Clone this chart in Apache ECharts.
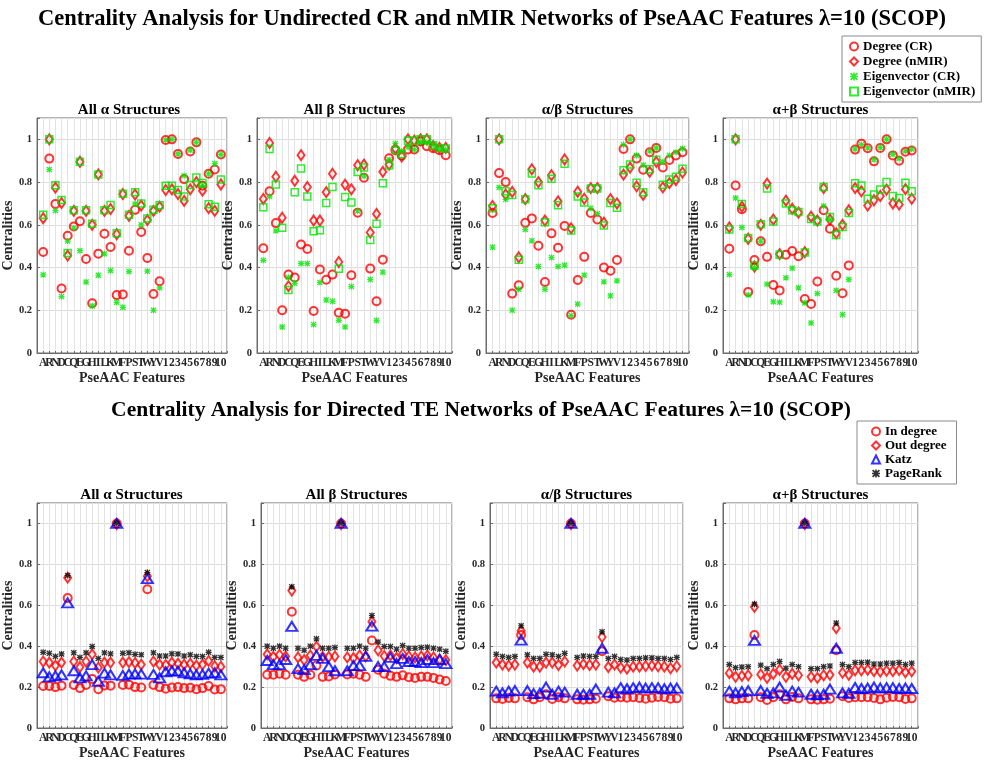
<!DOCTYPE html>
<html><head><meta charset="utf-8">
<script src="https://cdn.jsdelivr.net/npm/echarts@6/dist/echarts.min.js"></script>
<style>html,body{margin:0;padding:0;background:#fff}#c{width:987px;height:761px}</style>
</head><body><div id="c"></div>
<script>
// ---------- DATA ----------
const cats = ['A','R','N','D','C','Q','E','G','H','I','L','K','M','F','P','S','T','W','Y','V','1','2','3','4','5','6','7','8','9','10'];
const yTicks = [0, 0.2, 0.4, 0.6, 0.8, 1];
const subTitles = ['All α Structures', 'All β Structures', 'α/β Structures', 'α+β Structures'];
const topNames = ['Degree (CR)', 'Degree (nMIR)', 'Eigenvector (CR)', 'Eigenvector (nMIR)'];
const botNames = ['In degree', 'Out degree', 'Katz', 'PageRank'];

// Top row: undirected CR / nMIR networks
const alphaDegCR  = [.473,.91,.698,.302,.549,.592,.617,.44,.233,.465,.558,.496,.271,.274,.479,.67,.566,.445,.276,.336,.997,1.0,.932,.814,.943,.986,.783,.839,.859,.929];
const alphaDegN   = [.631,1.0,.774,.702,.456,.665,.895,.665,.60,.836,.665,.674,.556,.744,.642,.742,.69,.622,.665,.685,.763,.766,.744,.712,.766,.80,.76,.678,.665,.789];
const alphaEigCR  = [.366,.859,.667,.264,.524,.585,.479,.332,.22,.364,.464,.386,.237,.214,.381,.698,.60,.383,.20,.305,.997,1.0,.932,.83,.95,.986,.785,.839,.887,.929];
const alphaEigN   = [.647,1.0,.785,.716,.468,.668,.895,.668,.605,.836,.668,.693,.561,.746,.647,.752,.70,.63,.67,.692,.783,.783,.763,.732,.786,.822,.796,.696,.685,.812];

const betaDegCR   = [.49,.757,.608,.20,.367,.353,.508,.487,.197,.391,.343,.367,.188,.184,.364,.657,.82,.395,.242,.437,.912,.949,.925,.953,.953,.99,.968,.958,.949,.926];
const betaDegN    = [.721,.983,.825,.633,.313,.806,.926,.777,.62,.62,.753,.839,.426,.788,.766,.879,.882,.564,.651,.848,.882,.957,.92,1.0,.994,1.0,1.0,.969,.96,.96];
const betaEigCR   = [.434,.732,.572,.122,.353,.326,.419,.419,.133,.33,.248,.242,.153,.122,.311,.665,.828,.344,.152,.378,.905,.981,.945,.964,.952,.988,.985,.972,.957,.953];
const betaEigN    = [.682,.955,.789,.586,.295,.753,.864,.733,.57,.575,.702,.777,.394,.73,.705,.847,.868,.529,.605,.794,.878,.949,.93,.994,.994,1.0,1.0,.972,.96,.957];

const abDegCR     = [.655,.842,.80,.278,.317,.61,.63,.502,.332,.56,.493,.595,.179,.342,.45,.655,.625,.40,.385,.435,.955,1.0,.91,.858,.94,.96,.868,.903,.925,.94];
const abDegN      = [.688,1.0,.742,.754,.448,.72,.86,.80,.62,.832,.71,.906,.584,.755,.722,.772,.772,.61,.72,.70,.835,.868,.78,.74,.848,.895,.775,.795,.81,.845];
const abEigCR     = [.495,.775,.719,.20,.298,.578,.525,.405,.298,.447,.405,.411,.175,.229,.364,.677,.652,.333,.268,.338,.975,1.0,.925,.88,.945,.96,.895,.925,.94,.957];
const abEigN      = [.677,1.0,.757,.739,.437,.72,.84,.785,.612,.816,.692,.886,.573,.733,.705,.77,.77,.597,.702,.68,.855,.882,.797,.752,.86,.905,.787,.812,.825,.862];

const apbDegCR    = [.488,.784,.673,.286,.435,.523,.45,.318,.293,.46,.477,.453,.253,.229,.335,.668,.582,.362,.28,.41,.952,.98,.958,.897,.96,1.0,.925,.90,.942,.948];
const apbDegN     = [.588,1.0,.685,.535,.405,.60,.793,.625,.463,.713,.675,.657,.472,.638,.62,.772,.625,.56,.60,.668,.772,.757,.69,.715,.735,.765,.70,.695,.767,.722];
const apbEigCR    = [.367,.726,.588,.272,.40,.523,.322,.24,.238,.352,.397,.305,.235,.141,.278,.688,.625,.293,.18,.344,.955,.975,.96,.905,.962,1.0,.93,.91,.945,.955];
const apbEigN     = [.578,1.0,.697,.538,.41,.603,.77,.615,.46,.70,.668,.66,.47,.627,.615,.777,.637,.552,.59,.655,.795,.784,.722,.742,.765,.80,.735,.725,.797,.757];

// Bottom row: directed TE networks
const aIn   = [.205,.205,.20,.207,.635,.21,.195,.21,.24,.19,.208,.207,1.0,.21,.212,.20,.198,.678,.21,.20,.192,.198,.20,.195,.197,.19,.195,.205,.188,.19];
const aOut  = [.325,.32,.305,.32,.735,.325,.298,.325,.36,.295,.32,.32,.997,.32,.322,.318,.31,.742,.325,.31,.308,.32,.315,.31,.315,.305,.31,.328,.302,.30];
const aKatz = [.27,.25,.255,.26,.612,.28,.245,.255,.31,.228,.268,.26,1.0,.257,.263,.265,.263,.73,.262,.245,.275,.28,.278,.27,.265,.26,.262,.268,.27,.26];
const aPR   = [.37,.365,.35,.362,.745,.368,.345,.368,.398,.34,.368,.363,1.0,.365,.368,.36,.358,.76,.368,.352,.352,.363,.362,.352,.358,.35,.35,.37,.345,.345];

const bIn   = [.26,.26,.265,.26,.568,.26,.25,.26,.305,.25,.252,.262,1.0,.262,.265,.26,.25,.428,.285,.265,.255,.25,.258,.248,.245,.25,.25,.245,.237,.23];
const bOut  = [.36,.348,.358,.35,.672,.345,.332,.355,.398,.348,.348,.35,.997,.345,.342,.355,.35,.52,.38,.352,.355,.342,.362,.35,.345,.35,.355,.345,.335,.332];
const bKatz = [.33,.31,.31,.335,.497,.29,.285,.31,.355,.34,.30,.28,1.0,.28,.305,.305,.35,.498,.30,.30,.345,.315,.34,.325,.325,.32,.335,.32,.335,.315];
const bPR   = [.40,.39,.40,.39,.69,.39,.38,.40,.436,.39,.39,.393,1.0,.39,.39,.40,.39,.55,.42,.398,.398,.385,.403,.39,.39,.393,.395,.39,.385,.375];

const abIn   = [.145,.142,.147,.145,.455,.15,.14,.15,.165,.142,.15,.145,1.0,.14,.138,.14,.143,.375,.155,.148,.15,.148,.15,.147,.143,.148,.152,.15,.143,.145];
const abOut  = [.32,.31,.305,.31,.475,.32,.30,.30,.32,.32,.308,.325,.997,.305,.312,.308,.31,.445,.298,.31,.295,.29,.30,.30,.303,.305,.302,.30,.292,.302];
const abKatz = [.18,.172,.18,.183,.43,.183,.168,.17,.20,.165,.18,.175,1.0,.165,.165,.165,.19,.39,.175,.172,.197,.192,.197,.20,.195,.197,.197,.192,.195,.195];
const abPR   = [.36,.35,.345,.35,.50,.358,.34,.34,.36,.358,.35,.365,1.0,.345,.352,.35,.35,.47,.34,.35,.335,.332,.34,.34,.343,.343,.34,.34,.335,.345];

const apbIn   = [.145,.14,.145,.145,.455,.15,.137,.15,.165,.14,.152,.145,1.0,.14,.138,.14,.143,.38,.155,.147,.15,.15,.15,.147,.14,.148,.152,.15,.142,.145];
const apbOut  = [.268,.25,.255,.258,.592,.262,.245,.265,.285,.25,.265,.258,.997,.25,.245,.258,.26,.488,.27,.26,.282,.282,.285,.278,.276,.28,.278,.283,.272,.277];
const apbKatz = [.18,.172,.178,.182,.428,.183,.17,.172,.20,.16,.18,.175,1.0,.165,.162,.165,.19,.39,.172,.17,.198,.193,.195,.20,.195,.197,.197,.193,.195,.193];
const apbPR   = [.31,.295,.298,.30,.605,.307,.29,.31,.325,.292,.31,.30,1.0,.29,.29,.30,.303,.513,.31,.30,.32,.32,.322,.313,.313,.317,.317,.32,.31,.317];

// ---------- CHART ----------
const FONT = '"Liberation Serif", "Times New Roman", serif';
const XPATH = 'path://M0,1.5L1.5,0L5,3.5L8.5,0L10,1.5L6.5,5L10,8.5L8.5,10L5,6.5L1.5,10L0,8.5L3.5,5Z M4,0L6,0L6,4L10,4L10,6L6,6L6,10L4,10L4,6L0,6L0,4L4,4Z';

const styles = {
  circleRed:   { symbol: 'circle', symbolSize: 8, itemStyle: { color: 'rgba(255,255,255,0)', borderColor: '#ff0000', borderWidth: 2 } },
  diamondRed:  { symbol: 'diamond', symbolSize: [7, 10], itemStyle: { color: 'rgba(255,255,255,0)', borderColor: '#ff0000', borderWidth: 2 } },
  xGreen:      { symbol: XPATH, symbolSize: 6, itemStyle: { color: '#00e600' } },
  squareGreen: { symbol: 'rect', symbolSize: 7, itemStyle: { color: 'rgba(255,255,255,0)', borderColor: '#00e600', borderWidth: 1.5 } },
  triBlue:     { symbol: 'triangle', symbolSize: [11, 9], itemStyle: { color: 'rgba(255,255,255,0)', borderColor: '#0000ff', borderWidth: 2 } },
  xBlack:      { symbol: XPATH, symbolSize: 6, itemStyle: { color: '#000000' } }
};
const topStyles = [styles.circleRed, styles.diamondRed, styles.xGreen, styles.squareGreen];
const botStyles = [styles.circleRed, styles.diamondRed, styles.triBlue, styles.xBlack];

const topData = [
  [alphaDegCR, alphaDegN, alphaEigCR, alphaEigN],
  [betaDegCR, betaDegN, betaEigCR, betaEigN],
  [abDegCR, abDegN, abEigCR, abEigN],
  [apbDegCR, apbDegN, apbEigCR, apbEigN]
];
const botData = [
  [aIn, aOut, aKatz, aPR],
  [bIn, bOut, bKatz, bPR],
  [abIn, abOut, abKatz, abPR],
  [apbIn, apbOut, apbKatz, apbPR]
];

const topLayout = [[31,196],[257,195],[486,203],[723,195]];
const botLayout = [[36,191],[261,191],[490,193],[723,195]];
const TOP_Y = 118, TOP_H = 235, BOT_Y = 503, BOT_H = 226;

const grids = [], xAxes = [], yAxes = [], series = [], graphics = [];

function addPanel(idx, left, width, top, height, title, data, names, stl) {
  grids.push({ left, top, width, height, show: true, borderColor: '#6b6b6b', borderWidth: 1, backgroundColor: '#fff' });
  xAxes.push({
    type: 'value', gridIndex: idx, min: 0, max: 31, interval: 1,
    name: 'PseAAC Features', nameLocation: 'middle', nameGap: 18,
    nameTextStyle: { fontFamily: FONT, fontWeight: 'bold', fontSize: 14, color: '#262626' },
    axisLine: { show: true, lineStyle: { color: '#6b6b6b' } },
    axisTick: { show: true, inside: true, length: 2, lineStyle: { color: '#6b6b6b' } },
    axisLabel: { margin: 4, fontFamily: FONT, fontWeight: 'bold', fontSize: 11.5, color: '#262626',
      formatter: v => (v >= 1 && v <= cats.length) ? cats[Math.round(v) - 1] : '' },
    splitLine: { show: true, lineStyle: { color: '#e3e3e3', width: 1 } }
  });
  yAxes.push({
    type: 'value', gridIndex: idx, min: 0, max: 1.1, interval: 0.2,
    name: 'Centralities', nameLocation: 'middle', nameGap: 16,
    nameTextStyle: { fontFamily: FONT, fontWeight: 'bold', fontSize: 14, color: '#262626' },
    axisLine: { show: true, lineStyle: { color: '#6b6b6b' } },
    axisTick: { show: true, inside: true, length: 3, lineStyle: { color: '#6b6b6b' } },
    axisLabel: { margin: 5, fontFamily: FONT, fontWeight: 'bold', fontSize: 10.5, color: '#262626',
      formatter: v => { const t = yTicks.find(k => Math.abs(k - v) < 1e-6); return t === undefined ? '' : (t === 0 ? '0' : t === 1 ? '1' : t.toFixed(1)); } },
    splitLine: { show: true, lineStyle: { color: '#dcdcdc', width: 1 } }
  });
  data.forEach((arr, k) => {
    series.push(Object.assign({
      type: 'scatter', name: names[k], xAxisIndex: idx, yAxisIndex: idx,
      data: arr.map((v, i) => [i + 1, v]), silent: true, animation: false
    }, JSON.parse(JSON.stringify(stl[k]))));
  });
  graphics.push({ type: 'text', x: left + width / 2, y: title.y,
    style: { text: title.text, textAlign: 'center', textVerticalAlign: 'middle', font: 'bold 15px ' + FONT, fill: '#000' } });
}

for (let p = 0; p < 4; p++) {
  addPanel(p, topLayout[p][0], topLayout[p][1], TOP_Y, TOP_H, { text: subTitles[p], y: 110 }, topData[p], topNames, topStyles);
}
for (let p = 0; p < 4; p++) {
  addPanel(4 + p, botLayout[p][0], botLayout[p][1], BOT_Y, BOT_H, { text: subTitles[p], y: 495 }, botData[p], botNames, botStyles);
}

graphics.push({ type: 'text', x: 492, y: 19,
  style: { text: 'Centrality Analysis for Undirected CR and nMIR Networks of PseAAC Features λ=10 (SCOP)', textAlign: 'center', textVerticalAlign: 'middle', font: 'bold 22.5px ' + FONT, fill: '#000' } });
graphics.push({ type: 'text', x: 481, y: 410,
  style: { text: 'Centrality Analysis for Directed TE Networks of PseAAC Features λ=10 (SCOP)', textAlign: 'center', textVerticalAlign: 'middle', font: 'bold 21.5px ' + FONT, fill: '#000' } });

const legendText = { fontFamily: FONT, fontWeight: 'bold', fontSize: 13, color: '#000' };
const chart = echarts.init(document.getElementById('c'), null, { renderer: 'canvas' });
chart.setOption({
  backgroundColor: '#fff',
  animation: false,
  grid: grids, xAxis: xAxes, yAxis: yAxes, series: series,
  legend: [
    { data: topNames, orient: 'vertical', left: 842, top: 36, itemWidth: 8, itemHeight: 8, itemGap: 2,
      padding: [4, 6, 4, 7], borderColor: '#8a8a8a', borderWidth: 1, backgroundColor: '#fff', textStyle: legendText, selectedMode: false },
    { data: botNames, orient: 'vertical', left: 857, top: 421, itemWidth: 8, itemHeight: 8, itemGap: 1,
      padding: [4, 10, 4, 14], borderColor: '#8a8a8a', borderWidth: 1, backgroundColor: '#fff', textStyle: legendText, selectedMode: false }
  ],
  graphic: graphics
});
</script></body></html>
